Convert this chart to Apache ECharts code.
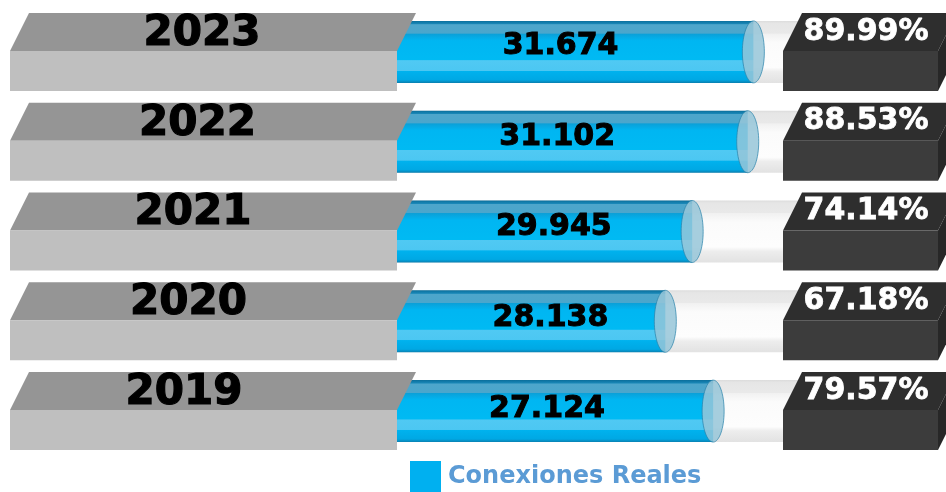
<!DOCTYPE html>
<html>
<head>
<meta charset="utf-8">
<script src="https://cdn.jsdelivr.net/npm/echarts@6/dist/echarts.min.js"></script>
<style>
  html, body { margin: 0; padding: 0; background: #fff; }
  #chart { width: 946px; height: 492px; }
</style>
</head>
<body>
<div id="chart"></div>
<script>
// datos de conexiones por año
var years = ['2019', '2020', '2021', '2022', '2023'];
var conexiones = [27124, 28138, 29945, 31102, 31674];
var porcentajes = [79.57, 67.18, 74.14, 88.53, 89.99];
var serieNombre = 'Conexiones Reales';

var FONT = '"DejaVu Sans", Verdana, sans-serif';

function miles(n) {
    var s = String(n);
    return s.slice(0, s.length - 3) + '.' + s.slice(s.length - 3);
}

var data = [];
for (var i = 0; i < years.length; i++) {
    data.push([porcentajes[i], i, conexiones[i]]);
}

function renderItem(params, api) {
    var idx = api.value(1);
    var pct = api.value(0);
    var c0 = api.coord([0, idx]);
    var cEnd = api.coord([pct, idx]);
    var cFull = api.coord([100, idx]);
    var cy = c0[1];
    var children = [];

    // riel gris claro
    children.push({
        type: 'rect',
        shape: { x: c0[0] - 19, y: cy - 31, width: cFull[0] - c0[0] + 19, height: 62 },
        style: {
            fill: new echarts.graphic.LinearGradient(0, 0, 0, 1, [
                { offset: 0, color: '#dcdcdc' },
                { offset: 0.04, color: '#e6e6e6' },
                { offset: 0.2, color: '#e9e9e9' },
                { offset: 0.21, color: '#f1f1f1' },
                { offset: 0.35, color: '#fbfbfb' },
                { offset: 0.75, color: '#fdfdfd' },
                { offset: 0.82, color: '#ededed' },
                { offset: 1, color: '#e2e2e2' }
            ])
        }
    });

    // cilindro azul
    children.push({
        type: 'rect',
        shape: { x: c0[0] - 19, y: cy - 31, width: cEnd[0] - 10 - (c0[0] - 19), height: 62 },
        style: {
            fill: new echarts.graphic.LinearGradient(0, 0, 0, 1, [
                { offset: 0, color: '#0a6f9c' },
                { offset: 0.05, color: '#1a88b8' },
                { offset: 0.06, color: '#4ea6cb' },
                { offset: 0.2, color: '#4aa6cc' },
                { offset: 0.21, color: '#0aa0d8' },
                { offset: 0.32, color: '#00b6f2' },
                { offset: 0.63, color: '#00baf3' },
                { offset: 0.64, color: '#50c9f3' },
                { offset: 0.8, color: '#4cc7f2' },
                { offset: 0.81, color: '#00b2ee' },
                { offset: 0.95, color: '#00a8e4' },
                { offset: 1, color: '#0a7fb0' }
            ])
        }
    });
    // tapa del cilindro
    children.push({
        type: 'ellipse',
        shape: { cx: cEnd[0] - 10, cy: cy, rx: 11, ry: 31 },
        style: {
            fill: 'rgba(150,198,216,0.85)',
            stroke: 'rgba(40,130,170,0.7)',
            lineWidth: 1
        }
    });

    // caja gris del año
    children.push({
        type: 'polygon',
        shape: { points: [[10, cy - 1], [29, cy - 39], [c0[0], cy - 39], [c0[0] - 19, cy - 1]] },
        style: { fill: '#959595' }
    });
    children.push({
        type: 'rect',
        shape: { x: 10, y: cy - 1, width: c0[0] - 29, height: 40 },
        style: { fill: '#bfbfbf' }
    });

    // caja oscura del porcentaje
    children.push({
        type: 'polygon',
        shape: { points: [[cFull[0] - 19, cy - 1], [cFull[0], cy - 39], [957, cy - 39], [938, cy - 1]] },
        style: { fill: '#2e2e2e' }
    });
    children.push({
        type: 'rect',
        shape: { x: cFull[0] - 19, y: cy - 1, width: 938 - (cFull[0] - 19), height: 40 },
        style: { fill: '#3c3c3c' }
    });
    children.push({
        type: 'polygon',
        shape: { points: [[938, cy - 1], [957, cy - 39], [957, cy + 1], [938, cy + 39]] },
        style: { fill: '#272727' }
    });

    // textos
    children.push({
        type: 'text',
        style: {
            text: years[idx], x: 184 + 4.5 * idx, y: cy - 18,
            font: 'bold 42px ' + FONT, fill: '#000',
            stroke: '#000', lineWidth: 1.2,
            align: 'center', verticalAlign: 'middle'
        }
    });
    children.push({
        type: 'text',
        style: {
            text: miles(api.value(2)), x: 547 + 3.4 * idx, y: cy - 2 - 0.9 * idx,
            font: 'bold 30px ' + FONT, fill: '#000',
            stroke: '#000', lineWidth: 1,
            align: 'center', verticalAlign: 'middle'
        }
    });
    children.push({
        type: 'text',
        style: {
            text: pct.toFixed(2) + '%', x: 866, y: cy - 20,
            font: 'bold 30px ' + FONT, fill: '#fff',
            stroke: '#fff', lineWidth: 0.8,
            align: 'center', verticalAlign: 'middle'
        }
    });

    return { type: 'group', children: children };
}

var myChart = echarts.init(document.getElementById('chart'));
var option = {
    backgroundColor: '#fff',
    animation: false,
    legend: {
        data: [{ name: serieNombre, icon: 'rect' }],
        left: 410,
        top: 461,
        padding: 0,
        itemWidth: 31,
        itemHeight: 31,
        textStyle: { fontFamily: FONT, fontSize: 24, fontWeight: 'bold', color: '#5b9bd5', padding: [3, 0, 0, 2] }
    },
    grid: { left: 416, right: 144, top: 7, bottom: 36 },
    xAxis: { type: 'value', min: 0, max: 100, show: false },
    yAxis: { type: 'category', data: years, show: false },
    series: [{
        name: serieNombre,
        type: 'custom',
        clip: false,
        itemStyle: { color: '#00b0f0' },
        renderItem: renderItem,
        encode: { x: 0, y: 1 },
        data: data
    }]
};
myChart.setOption(option);
</script>
</body>
</html>
